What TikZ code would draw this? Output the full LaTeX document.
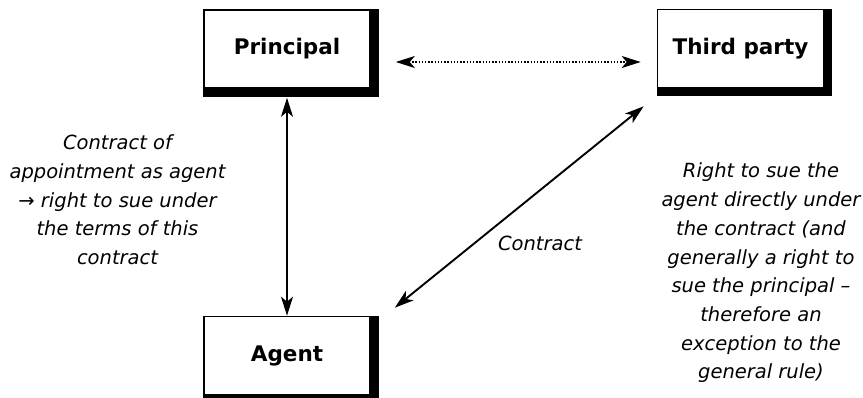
\documentclass[tikz,border=0pt]{standalone}
\usepackage{fontspec}
\setmainfont{DejaVu Sans}
\usetikzlibrary{arrows.meta}
\tikzset{
  box/.style={draw, line width=1.6pt, fill=white, minimum width=166pt, minimum height=78pt,
    inner sep=0pt, font=\fontsize{21.5}{24}\selectfont\bfseries},
  note/.style={align=center, font=\fontsize{19.5}{28.7}\selectfont\itshape, inner sep=0pt},
  tip/.tip={Stealth[length=19pt,width=12pt,inset=5pt]},
  arr/.style={line width=1.9pt, tip-tip},
  darr/.style={arr, dash pattern=on 1.3pt off 1.9pt},
}
\begin{document}
\begin{tikzpicture}[x=1pt,y=-1pt]
\useasboundingbox (0,0) rectangle (863,398);
\node[box] (P) at (287,49) {Principal};
\node[box] (T) at (740.5,48.5) {Third party};
\node[box] (A) at (287,355.5) {Agent};
\foreach \n in {P,T,A} {
  \fill (\n.north east) rectangle ([xshift=8pt,yshift=-8pt]\n.south east);
  \fill (\n.south west) rectangle ([xshift=8pt,yshift=-8pt]\n.south east);
}
\draw[arr] ([yshift=-9pt]P.south) -- (A.north);
\draw[darr] ([xshift=25pt,yshift=-13pt]P.east) -- ([xshift=-16pt,yshift=-13.5pt]T.west);
\draw[arr] ([xshift=-13pt,yshift=-18pt]T.south west) -- ([xshift=24pt,yshift=8pt]A.north east);
\node[note] (L) at (117.5,200) {Contract of\\appointment as agent\\→ right to sue under\\the terms of this\\contract};
\node[note] (R) at (761,273) {Right to sue the\\agent directly under\\the contract (and\\generally a right to\\sue the principal –\\therefore an\\exception to the\\general rule)};
\node[note] (C) at (540,243) {Contract};
\end{tikzpicture}
\end{document}
